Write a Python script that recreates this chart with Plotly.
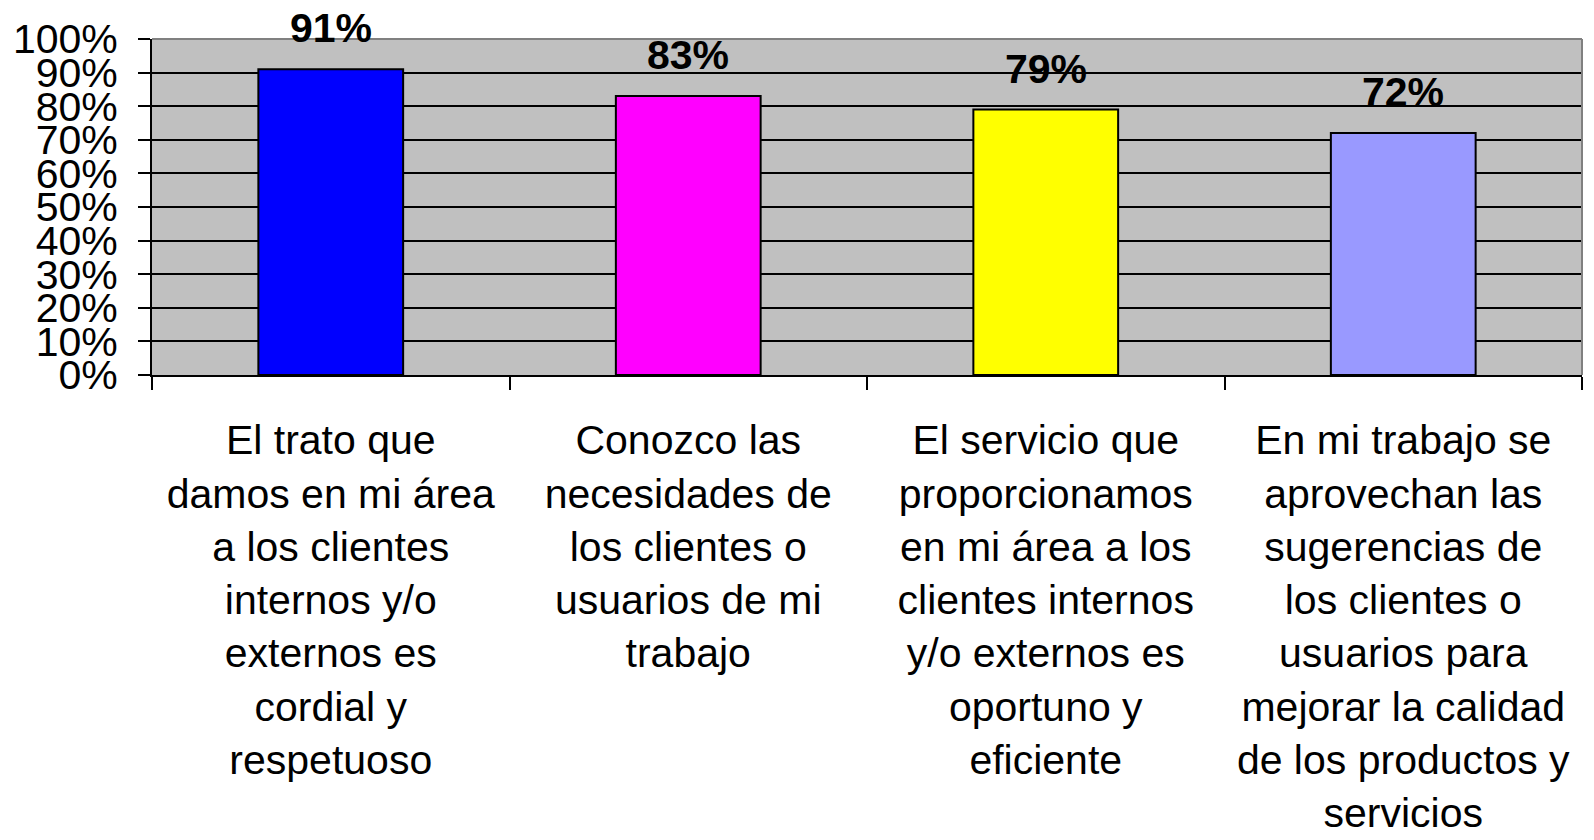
import plotly.graph_objects as go

categories = [
    "El trato que<br>damos en mi área<br>a los clientes<br>internos y/o<br>externos es<br>cordial y<br>respetuoso",
    "Conozco las<br>necesidades de<br>los clientes o<br>usuarios de mi<br>trabajo",
    "El servicio que<br>proporcionamos<br>en mi área a los<br>clientes internos<br>y/o externos es<br>oportuno y<br>eficiente",
    "En mi trabajo se<br>aprovechan las<br>sugerencias de<br>los clientes o<br>usuarios para<br>mejorar la calidad<br>de los productos y<br>servicios",
]
values = [0.91, 0.83, 0.79, 0.72]
colors = ["#0000FF", "#FF00FF", "#FFFF00", "#9999FF"]

# page body has an 8px margin, so the figure is a bit smaller than the window
fig = go.Figure(layout=dict(width=1586, height=832))

fig.add_trace(go.Bar(
    x=categories, y=values,
    marker=dict(color=colors, line=dict(color="black", width=2)),
    hoverinfo="skip",
))

# value labels above each bar
for c, v in zip(categories, values):
    fig.add_annotation(
        x=c, y=v, text="<b>%d%%</b>" % round(v * 100),
        showarrow=False, yanchor="bottom", yshift=16,
        font=dict(family="Liberation Sans, Arial", size=41, color="black"),
    )

# grey frame on top and right of plot area
fig.add_shape(type="line", xref="paper", yref="paper", x0=0, x1=1, y0=1, y1=1,
              line=dict(color="#808080", width=2))
fig.add_shape(type="line", xref="paper", yref="paper", x0=1, x1=1, y0=0, y1=1,
              line=dict(color="#808080", width=2))

fig.update_layout(
    paper_bgcolor="white",
    plot_bgcolor="#C0C0C0",
    showlegend=False,
    bargap=0.595,
    margin=dict(l=144, r=12, t=31, b=465),
    xaxis=dict(
        type="category",
        automargin=False,
        tickson="boundaries",
        ticks="outside", ticklen=13, tickwidth=2, tickcolor="black",
        showline=True, linecolor="black", linewidth=2,
        showgrid=False,
        tickfont=dict(family="Liberation Sans, Arial", size=41, color="black"),
        ticklabelstandoff=28,
    ),
    yaxis=dict(
        automargin=False,
        range=[0, 1], dtick=0.1, tickformat=".0%",
        ticks="outside", ticklen=12, tickwidth=2, tickcolor="black",
        showline=True, linecolor="black", linewidth=2,
        showgrid=True, gridcolor="black", gridwidth=1.5,
        zeroline=False,
        tickfont=dict(family="Liberation Sans, Arial", size=41, color="black"),
        ticklabelstandoff=12,
    ),
)

fig.write_html("out.html")
